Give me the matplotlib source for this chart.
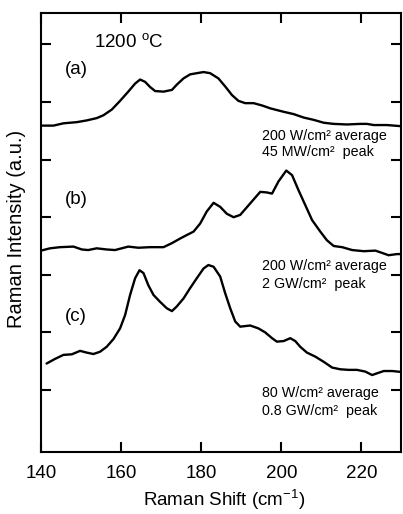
import matplotlib
matplotlib.use("Agg")
import matplotlib.pyplot as plt

plt.rcParams['font.family'] = ['Liberation Sans', 'DejaVu Sans']
plt.rcParams['mathtext.fontset'] = 'custom'
plt.rcParams['mathtext.rm'] = 'Liberation Sans'
plt.rcParams['mathtext.it'] = 'Liberation Sans:italic'
plt.rcParams['mathtext.bf'] = 'Liberation Sans:bold'

# --- spectre (a) : 200 W/cm2 moyen, 45 MW/cm2 crete ---
shift_a = [140.0, 143.1, 145.6, 148.9, 151.4, 153.9, 155.6, 157.7, 159.75, 161.8,
           163.5, 164.75, 166.0, 167.25, 168.5, 170.6, 172.7, 173.9, 175.6, 177.25,
           178.9, 180.6, 182.25, 184.3, 186.0, 187.7, 189.3, 191.0, 193.1, 195.2,
           197.25, 200.6, 203.1, 205.6, 208.1, 210.6, 213.1, 216.4, 219.75, 221.4,
           223.1, 226.4, 230.0]
int_a = [5.59, 5.59, 5.63, 5.65, 5.68, 5.72, 5.77, 5.87, 6.02, 6.18,
         6.32, 6.39, 6.35, 6.26, 6.19, 6.18, 6.21, 6.30, 6.41, 6.48,
         6.50, 6.52, 6.50, 6.41, 6.27, 6.12, 6.02, 5.98, 5.98, 5.94,
         5.89, 5.83, 5.79, 5.73, 5.69, 5.64, 5.62, 5.61, 5.62, 5.62,
         5.60, 5.60, 5.58]

# --- spectre (b) : 200 W/cm2 moyen, 2 GW/cm2 crete ---
shift_b = [140.0, 142.25, 144.75, 148.1, 150.2, 151.8, 153.9, 156.4, 158.5, 161.8,
           164.3, 167.25, 170.6, 172.7, 174.75, 176.4, 178.1, 179.75, 181.4, 183.1,
           184.75, 186.4, 188.1, 189.75, 192.25, 194.75, 196.4, 197.7, 199.3, 201.25,
           202.7, 204.3, 206.0, 207.7, 209.75, 211.4, 213.1, 215.2, 217.7, 220.6,
           223.5, 225.2, 226.8, 228.9, 230.5]
int_b = [3.42, 3.46, 3.48, 3.49, 3.44, 3.43, 3.46, 3.44, 3.43, 3.49,
         3.47, 3.48, 3.48, 3.55, 3.63, 3.69, 3.75, 3.89, 4.10, 4.25,
         4.18, 4.06, 4.00, 4.04, 4.24, 4.44, 4.43, 4.41, 4.62, 4.81,
         4.73, 4.47, 4.21, 3.95, 3.75, 3.60, 3.50, 3.48, 3.43, 3.41,
         3.42, 3.38, 3.34, 3.36, 3.36]

# --- spectre (c) : 80 W/cm2 moyen, 0.8 GW/cm2 crete ---
shift_c = [141.4, 143.5, 145.6, 147.7, 149.75, 151.4, 153.1, 154.75, 156.4, 158.1,
           159.75, 161.0, 162.25, 163.5, 164.6, 165.6, 166.8, 168.1, 169.75, 171.4,
           172.7, 173.9, 175.6, 177.25, 178.9, 180.6, 181.8, 183.1, 184.75, 186.0,
           187.25, 188.5, 189.75, 192.25, 194.3, 196.0, 197.7, 198.9, 200.6, 202.25,
           203.5, 204.75, 206.4, 208.5, 210.6, 212.7, 214.75, 216.8, 218.9, 221.0,
           222.7, 223.9, 225.6, 227.7, 230.5]
int_c = [1.46, 1.54, 1.61, 1.62, 1.68, 1.65, 1.625, 1.665, 1.75, 1.885,
         2.07, 2.30, 2.65, 2.94, 3.08, 3.03, 2.82, 2.65, 2.53, 2.42,
         2.37, 2.45, 2.59, 2.77, 2.94, 3.11, 3.17, 3.14, 2.97, 2.68,
         2.42, 2.19, 2.10, 2.12, 2.07, 2.00, 1.90, 1.84, 1.85, 1.90,
         1.85, 1.75, 1.65, 1.58, 1.49, 1.39, 1.36, 1.35, 1.35, 1.32,
         1.26, 1.29, 1.33, 1.33, 1.31]

x_ticks = [140, 160, 180, 200, 220]

fig = plt.figure(figsize=(4.03, 5.14), dpi=100)
ax = fig.add_axes([0.1017, 0.1206, 0.8943, 0.8541])

for sx, sy in [(shift_a, int_a), (shift_b, int_b), (shift_c, int_c)]:
    ax.plot(sx, sy, color="black", lw=1.7, solid_joinstyle="round", solid_capstyle="round")

ax.set_xlim(140, 230)
ax.set_ylim(-0.076, 7.545)
ax.set_xticks(x_ticks)
ax.set_yticks([1, 2, 3, 4, 5, 6, 7])
ax.set_yticklabels([])
ax.tick_params(direction="in", length=7, width=1.5, top=True, right=True,
               labelsize=13.5, pad=9)
for sp in ax.spines.values():
    sp.set_linewidth(1.5)

ax.set_xlabel("Raman Shift (cm$^{-1}$)", fontsize=13.5, va="center")
ax.xaxis.set_label_coords(0.508, -0.11)
ax.set_ylabel("Raman Intensity (a.u.)", fontsize=14.5, va="center")
ax.yaxis.set_label_coords(-0.068, 0.508)

# textes
ax.text(162.0, 7.04, "1200 $^{\\mathrm{o}}$C", fontsize=13.5, ha="center", va="center")
ax.text(148.8, 6.57, "(a)", fontsize=13.5, ha="center", va="center")
ax.text(148.8, 4.30, "(b)", fontsize=13.5, ha="center", va="center")
ax.text(148.8, 2.28, "(c)", fontsize=13.5, ha="center", va="center")

notes = [(5.41, 5.13, "200 W/cm² average", "45 MW/cm²  peak"),
         (3.15, 2.84, "200 W/cm² average", "2 GW/cm²  peak"),
         (0.95, 0.63, "80 W/cm² average", "0.8 GW/cm²  peak")]
for y1, y2, l1, l2 in notes:
    ax.text(195.3, y1, l1, fontsize=10.3, ha="left", va="center")
    ax.text(195.3, y2, l2, fontsize=10.3, ha="left", va="center")

fig.savefig("out.png", dpi=100)
